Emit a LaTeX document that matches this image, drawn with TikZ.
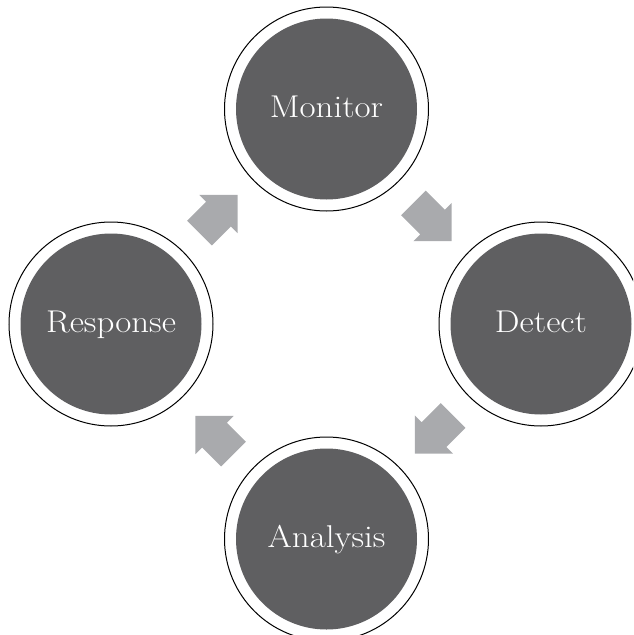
\documentclass[tikz,border=0pt]{standalone}
\usepackage{fontspec}
\setmainfont{Latin Modern Roman}
\newfontfamily\labelfont[FakeStretch=1.11]{Latin Modern Roman}
\definecolor{coregray}{RGB}{95,95,97}
\definecolor{arrowgray}{RGB}{169,170,173}
\begin{document}
\begin{tikzpicture}[x=1pt,y=-1pt,
  ring/.style={circle, draw=black, line width=1pt, fill=white, minimum size=204pt, inner sep=0pt},
  core/.style={circle, fill=coregray, minimum size=181pt, inner sep=0pt, text=white,
    font=\labelfont\fontsize{31.5}{31.5}\selectfont, text height=17pt, text depth=0pt},
  blockarrow/.style={fill=arrowgray}]
\useasboundingbox (0,0) rectangle (633,635);
\clip (0,0) rectangle (633,635);
% rings
\node[ring] (monring) at (326.5,109) {};
\node[ring] (detring) at (541,324) {};
\node[ring] (anaring) at (326.5,539) {};
\node[ring] (resring) at (111,324) {};
% cores with labels
\node[core] (mon) at (monring.center) {Monitor};
\node[core] (det) at (detring.center) {Detect};
\node[core] (ana) at (anaring.center) {Analysis};
\node[core] (res) at (resring.center) {Response};
% block arrows
\foreach \cx/\cy/\ang in {218.5/214/45, 432.5/222/-45, 434/434.5/-135, 214.5/435/135}{
  \begin{scope}[shift={(\cx,\cy)}, rotate=\ang]
    \fill[blockarrow] (-27,-17.5) -- (0,-17.5) -- (0,-27) -- (27,0) -- (0,27) -- (0,17.5) -- (-27,17.5) -- cycle;
  \end{scope}
}
\end{tikzpicture}
\end{document}
